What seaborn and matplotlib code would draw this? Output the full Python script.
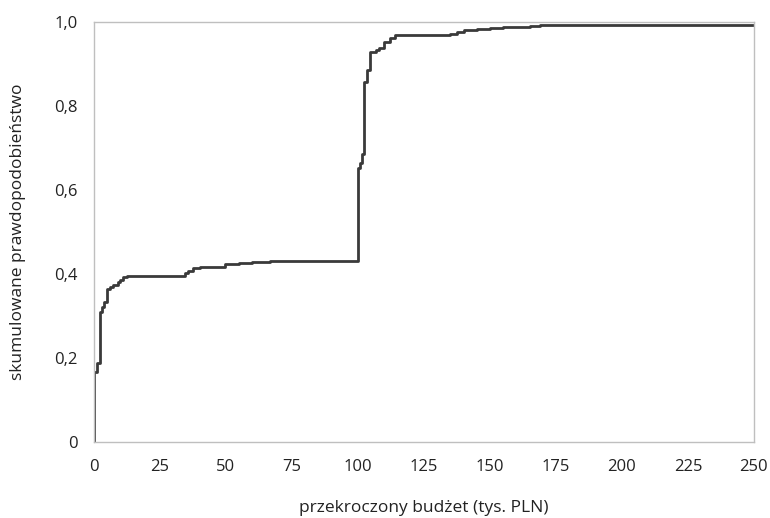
import numpy as np
import matplotlib
matplotlib.use("Agg")
import matplotlib.pyplot as plt
import seaborn as sb
import pandas as pd

# punkty dystrybuanty
budzet = [0, 0, 1.2, 2.3, 3.1, 3.8, 4.8, 6.0, 7.3, 9.2, 9.8, 11.1, 12.4,
          34.5, 35.7, 37.6, 40, 49.6, 55, 60, 66.7,
          100.1, 100.8, 101.4, 102.4, 103.5, 104.5, 107, 108, 109.9, 112, 114,
          134.8, 137.4, 140, 145, 150, 155, 160, 165, 169, 250]
prob = [0, 0.167, 0.187, 0.31, 0.322, 0.334, 0.364, 0.368, 0.375, 0.381, 0.386, 0.392, 0.395,
        0.403, 0.408, 0.414, 0.416, 0.424, 0.427, 0.429, 0.431,
        0.652, 0.664, 0.685, 0.858, 0.886, 0.928, 0.933, 0.939, 0.953, 0.963, 0.969,
        0.972, 0.976, 0.980, 0.983, 0.985, 0.987, 0.989, 0.991, 0.993, 0.993]

x_ticks = [0, 25, 50, 75, 100, 125, 150, 175, 200, 225, 250]
y_ticks = [0, 0.2, 0.4, 0.6, 0.8, 1.0]
y_labels = ["0", "0,2", "0,4", "0,6", "0,8", "1,0"]

df = pd.DataFrame({"budzet": budzet, "prob": prob})

sb.set_style("white")
plt.rcParams['font.family'] = ['Open Sans', 'DejaVu Sans']

fig = plt.figure(figsize=(7.7, 5.18), dpi=100)
ax = fig.add_axes([0.1221, 0.1467, 0.857, 0.8108])

sb.lineplot(data=df, x="budzet", y="prob", ax=ax, estimator=None, sort=False,
            drawstyle="steps-post", color="#3a3a3a", linewidth=2)

ax.set_xlim(0, 250)
ax.set_ylim(0, 1.0)
ax.set_xticks(x_ticks)
ax.set_xticklabels([str(t) for t in x_ticks])
ax.set_yticks(y_ticks)
ax.set_yticklabels(y_labels)

for s in ax.spines.values():
    s.set_color("#bfbfbf")
    s.set_linewidth(1)
ax.tick_params(axis="both", direction="out", length=5, width=1, color="#bfbfbf",
               labelsize=12, labelcolor="#222222", pad=7)

ax.set_xlabel("przekroczony budżet (tys. PLN)", fontsize=12.5, color="#222222", labelpad=18)
ax.set_ylabel("skumulowane prawdopodobieństwo", fontsize=12.5, color="#222222", labelpad=20)

fig.savefig("out.png", dpi=100)
